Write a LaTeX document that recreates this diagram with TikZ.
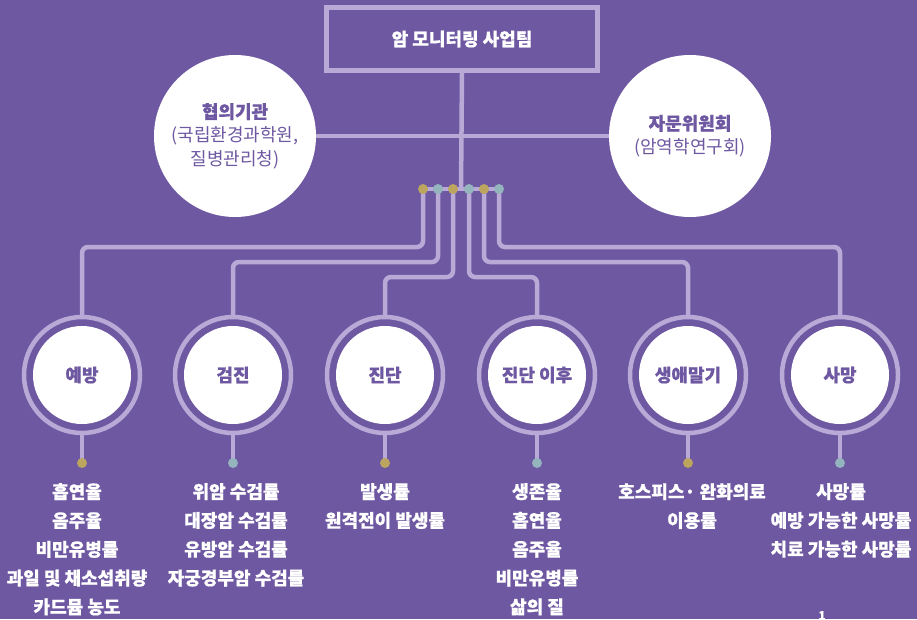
\documentclass[tikz,border=0pt]{standalone}
\usepackage{fontspec}
\setmainfont{Noto Sans CJK KR}[BoldFeatures={FakeBold=0.6}]
\pgfdeclarelayer{bgl}
\pgfdeclarelayer{lines}
\pgfsetlayers{bgl,lines,main}
\definecolor{bgp}{HTML}{6E58A2}
\definecolor{lnc}{HTML}{B9A9D6}
\definecolor{goldc}{HTML}{BBA55F}
\definecolor{tealc}{HTML}{94B5BE}
\definecolor{txp}{HTML}{6E58A2}
\tikzset{
  conn/.style={draw=lnc, line width=4.5pt, rounded corners=6pt},
  dotg/.style={circle, fill=goldc, minimum size=10pt, inner sep=0pt},
  dott/.style={circle, fill=tealc, minimum size=10pt, inner sep=0pt},
  ringc/.style={circle, draw=lnc, line width=4.5pt, minimum size=116pt, inner sep=0pt},
  core/.style={circle, fill=white, minimum size=98pt, inner sep=0pt, text=txp, font=\fontsize{18}{20}\selectfont\bfseries},
  bigc/.style={circle, fill=white, minimum size=162pt, inner sep=0pt, align=center, text=txp, font=\fontsize{18}{23.5}\selectfont},
  listc/.style={anchor=north, align=center, text=white, inner sep=0pt, font=\fontsize{18}{28.8}\selectfont\bfseries},
}
\begin{document}
\begin{tikzpicture}[x=1pt,y=-1pt]
\begin{pgfonlayer}{bgl}
\fill[bgp] (0,0) rectangle (917,619);
\end{pgfonlayer}
\useasboundingbox (0,0) rectangle (917,619);

% top
\node[draw=lnc, line width=5pt, minimum width=271pt, minimum height=63pt, inner sep=0pt, text=white, font=\fontsize{18}{20}\selectfont\bfseries] (team) at (462,39) {암 모니터링 사업팀};
\node[bigc] (hyup) at (235,136) {{\bfseries 협의기관}\\(국립환경과학원,\\질병관리청)};
\node[bigc] (jamun) at (690,136) {{\bfseries 자문위원회}\\(암역학연구회)};

% hub dots
\coordinate (hub) at (461,189);
\node[dotg] (d1) at (423,189) {};
\node[dott] (d2) at (438,189) {};
\node[dotg] (d3) at (453,189) {};
\node[dott] (d4) at (469,189) {};
\node[dotg] (d5) at (484,189) {};
\node[dott] (d6) at (499,189) {};

% bottom circles
\foreach \i/\x/\t in {1/82/예방, 2/233/검진, 3/385/진단, 4/537/진단 이후, 5/688/생애말기, 6/840/사망}{
  \node[ringc] (r\i) at (\x,375) {};
  \node[core] (c\i) at (\x,375) {\t};
}
\node[dotg] (b1) at (82,463) {};
\node[dott] (b2) at (233,463) {};
\node[dotg] (b3) at (385,463) {};
\node[dott] (b4) at (537,463) {};
\node[dotg] (b5) at (688,463) {};
\node[dott] (b6) at (840,463) {};

\begin{pgfonlayer}{lines}
\draw[conn] (hyup) -- (jamun);
\draw[conn] (team.south) -- (hub);
\draw[conn] (d1.center) -- (d6.center);
\draw[conn] (d1.center) -- (d1.center |- 0,247) -| (r1.north);
\draw[conn] (d2.center) -- (d2.center |- 0,262) -| (r2.north);
\draw[conn] (d3.center) -- (d3.center |- 0,277) -| (r3.north);
\draw[conn] (d4.center) -- (d4.center |- 0,277) -| (r4.north);
\draw[conn] (d5.center) -- (d5.center |- 0,262) -| (r5.north);
\draw[conn] (d6.center) -- (d6.center |- 0,247) -| (r6.north);
\foreach \i in {1,...,6}{
  \draw[conn] (r\i.south) -- (b\i.center);
}
\end{pgfonlayer}

% lists
\node[listc] (l1) at (77,483) {흡연율\\음주율\\비만유병률\\과일 및 채소섭취량\\카드뮴 농도};
\node[listc] (l2) at (236,483) {위암 수검률\\대장암 수검률\\유방암 수검률\\자궁경부암 수검률};
\node[listc] (l3) at (385,483) {발생률\\원격전이 발생률};
\node[listc] (l4) at (537,483) {생존율\\흡연율\\음주율\\비만유병률\\삶의 질};
\node[listc] (l5) at (692,483) {호스피스· 완화의료\\이용률};
\node[listc] (l6) at (841,483) {사망률\\예방 가능한 사망률\\치료 가능한 사망률};

\node[text=white, inner sep=0pt, anchor=north, font=\fontsize{12}{14}\selectfont\bfseries] (pg) at (822,611) {1};
\end{tikzpicture}
\end{document}
